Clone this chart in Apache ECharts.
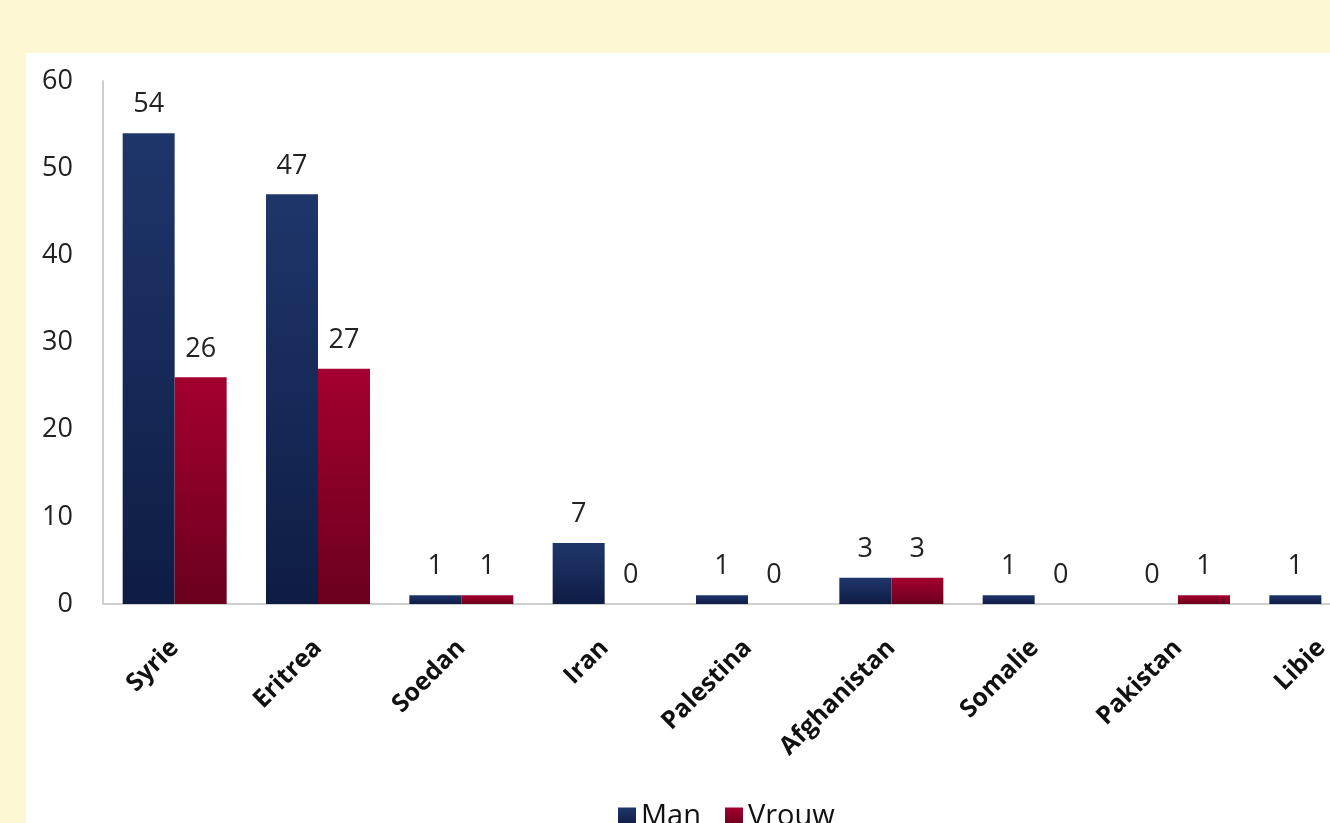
<!DOCTYPE html>
<html>
<head>
<meta charset="utf-8">
<script src="https://cdn.jsdelivr.net/npm/echarts@6/dist/echarts.min.js"></script>
<style>
html,body{margin:0;padding:0;width:1330px;height:823px;overflow:hidden;background:#fdf8d3;}
#chart{position:absolute;left:26px;top:53px;width:1420px;height:770px;background:#ffffff;}
</style>
</head>
<body>
<div id="chart"></div>
<script>
const categories = ['Syrie','Eritrea','Soedan','Iran','Palestina','Afghanistan','Somalie','Pakistan','Libie'];
const manValues = [54, 47, 1, 7, 1, 3, 1, 0, 1];
const vrouwValues = [26, 27, 1, 0, 0, 3, 0, 1, null];
const yTicks = [0, 10, 20, 30, 40, 50, 60];

const chart = echarts.init(document.getElementById('chart'));
const font = '"Open Sans", "Liberation Sans", sans-serif';
const labelCfg = {
  show: true, position: 'top', distance: 15,
  fontFamily: font, fontSize: 27, color: '#222'
};
chart.setOption({
  animation: false,
  backgroundColor: '#ffffff',
  grid: { left: 77, top: 28, width: 1290, height: 523 },
  legend: {
    left: 587, top: 744,
    itemWidth: 18, itemHeight: 18, itemGap: 24,
    icon: 'rect',
    textStyle: { fontFamily: font, fontSize: 29, color: '#111' },
    data: ['Man', 'Vrouw']
  },
  xAxis: {
    type: 'category',
    data: categories,
    axisLine: { lineStyle: { color: '#cfcfcf', width: 2 } },
    axisTick: { show: false },
    axisLabel: {
      rotate: 45, margin: 40, interval: 0,
      fontFamily: font, fontSize: 25, fontWeight: 'bold', color: '#111'
    }
  },
  yAxis: {
    type: 'value',
    min: yTicks[0], max: yTicks[yTicks.length - 1], interval: 10,
    axisLine: { show: true, lineStyle: { color: '#cfcfcf', width: 2 } },
    axisTick: { show: false },
    splitLine: { show: false },
    axisLabel: { margin: 30, fontFamily: font, fontSize: 27, color: '#222' }
  },
  series: [
    {
      name: 'Man', type: 'bar', data: manValues,
      barWidth: 52, barGap: '0%',
      itemStyle: {
        color: new echarts.graphic.LinearGradient(0, 0, 0, 1, [
          { offset: 0, color: '#1f366b' }, { offset: 1, color: '#0e1c44' }
        ])
      },
      label: labelCfg
    },
    {
      name: 'Vrouw', type: 'bar', data: vrouwValues,
      barWidth: 52,
      itemStyle: {
        color: new echarts.graphic.LinearGradient(0, 0, 0, 1, [
          { offset: 0, color: '#a4002f' }, { offset: 1, color: '#6a001d' }
        ])
      },
      label: labelCfg
    }
  ]
});
</script>
</body>
</html>
